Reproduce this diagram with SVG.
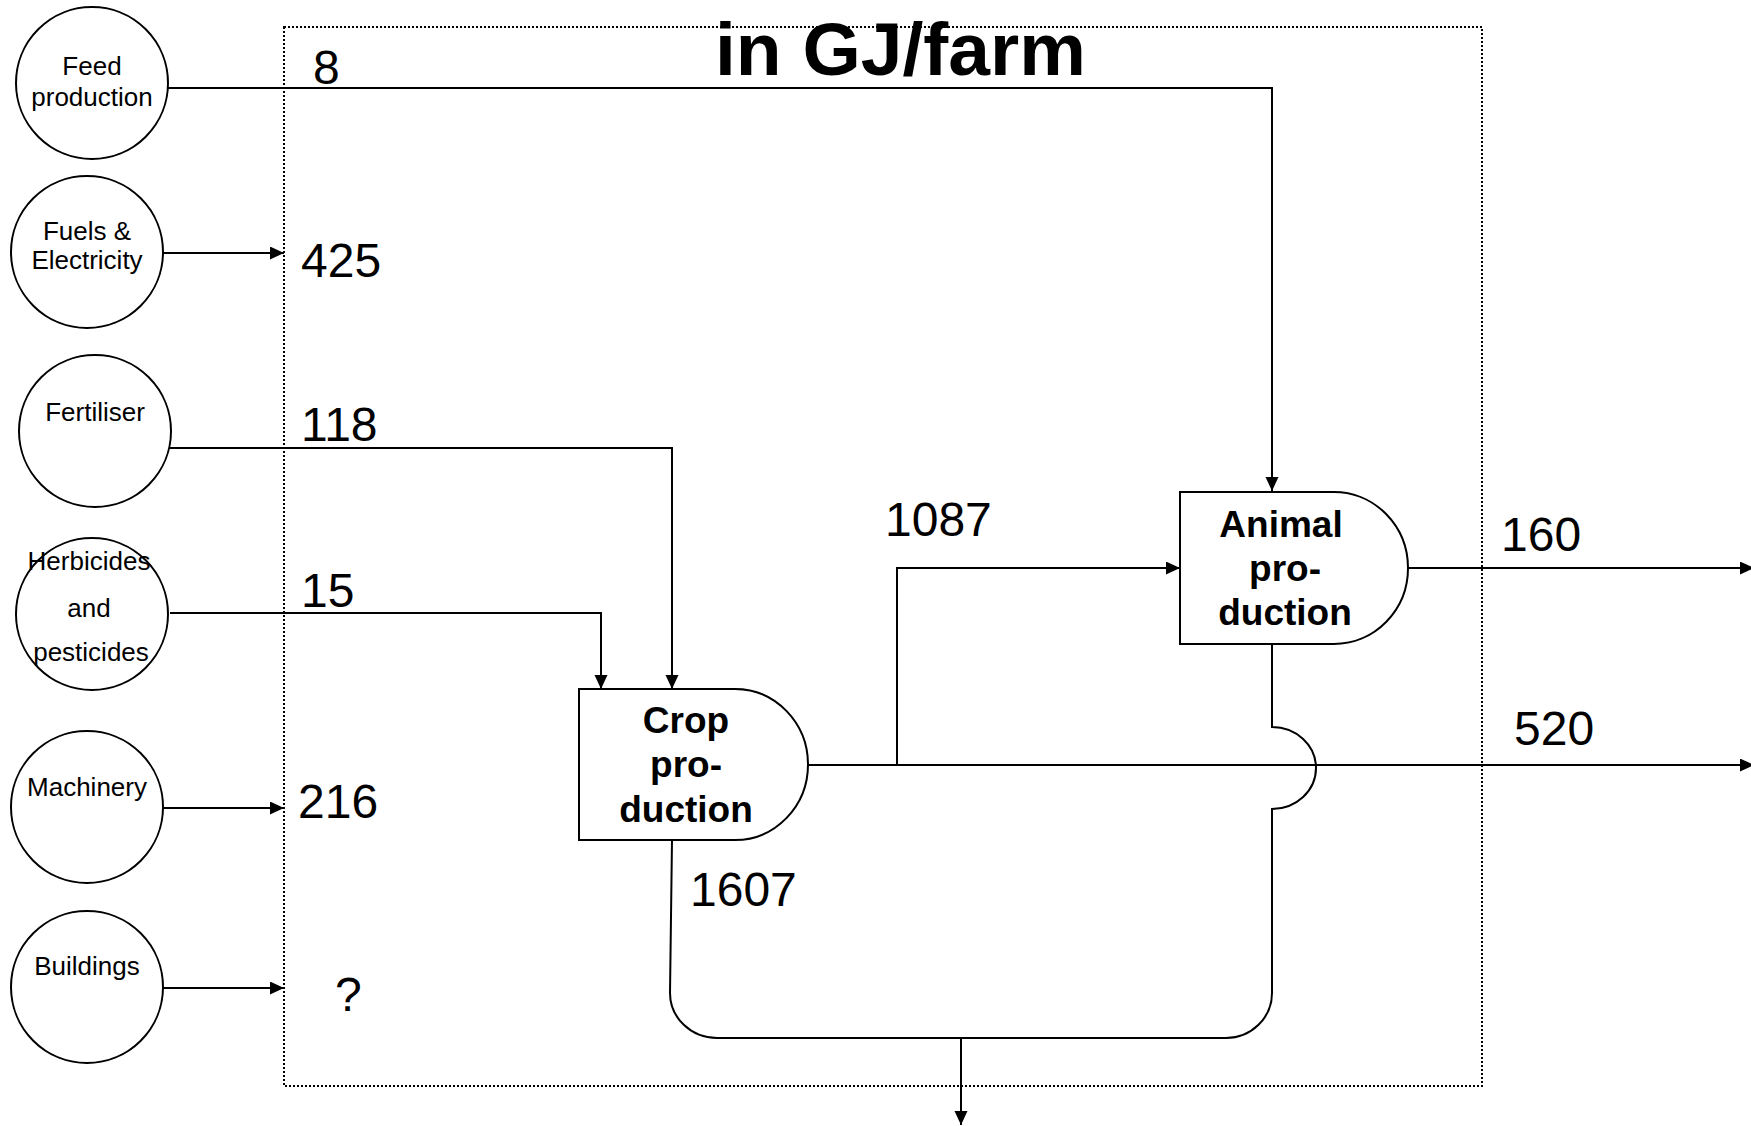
<svg xmlns="http://www.w3.org/2000/svg" width="1751" height="1126" viewBox="0 0 1751 1126">
<style>
.ln{fill:none;stroke:#000;stroke-width:2}
.nd{fill:#fff;stroke:#000;stroke-width:2}
.ct{font-family:"Liberation Sans",Arial,sans-serif;font-size:26px;text-anchor:middle;fill:#000}
.num{font-family:"Liberation Sans",Arial,sans-serif;font-size:48px;fill:#000}
.bt{font-family:"Liberation Sans",Arial,sans-serif;font-size:37px;font-weight:bold;text-anchor:middle;fill:#000}
</style>
<defs>
<marker id="ah" markerUnits="userSpaceOnUse" markerWidth="15" markerHeight="14" refX="14" refY="6.5" orient="auto">
<path d="M0,0 L14,6.5 L0,13 z" fill="#000"/>
</marker>
</defs>
<rect x="0" y="0" width="1751" height="1126" fill="#fff"/>
<rect id="boundary" x="284" y="27" width="1198" height="1059" fill="none" stroke="#000" stroke-width="2" stroke-dasharray="2 2"/>
<text x="715" y="75" font-family="'Liberation Sans',Arial,sans-serif" font-size="75" font-weight="bold">in GJ/farm</text>

<g id="connectors">
<path class="ln" d="M168,88 H1272 V491" marker-end="url(#ah)"/>
<path class="ln" d="M163,253 H284" marker-end="url(#ah)"/>
<path class="ln" d="M168,448 H672 V689" marker-end="url(#ah)"/>
<path class="ln" d="M170,613 H601 V689" marker-end="url(#ah)"/>
<path class="ln" d="M163,808 H284" marker-end="url(#ah)"/>
<path class="ln" d="M163,988 H284" marker-end="url(#ah)"/>
<path class="ln" d="M808,765 H1754" marker-end="url(#ah)"/>
<path class="ln" d="M897,765 V568 H1180" marker-end="url(#ah)"/>
<path class="ln" d="M1408,568 H1754" marker-end="url(#ah)"/>
<path class="ln" d="M1272,644 V727 A44,41 0 0 1 1272,809 V993 A46,45 0 0 1 1226,1038 H717 A47,45 0 0 1 670,993 L672,840"/>
<path class="ln" d="M961,1038 V1125" marker-end="url(#ah)"/>
</g>

<g id="feed"><circle class="nd" cx="92" cy="83" r="76"/><text class="ct" x="92" y="75">Feed</text><text class="ct" x="92" y="106">production</text></g>
<g id="fuels"><circle class="nd" cx="87" cy="252" r="76"/><text class="ct" x="87" y="240">Fuels &amp;</text><text class="ct" x="87" y="269">Electricity</text></g>
<g id="fertiliser"><circle class="nd" cx="95" cy="431" r="76"/><text class="ct" x="95" y="421">Fertiliser</text></g>
<g id="herbicides"><circle class="nd" cx="92" cy="614" r="76"/><text class="ct" x="89" y="570">Herbicides</text><text class="ct" x="89" y="617">and</text><text class="ct" x="91" y="661">pesticides</text></g>
<g id="machinery"><circle class="nd" cx="87" cy="807" r="76"/><text class="ct" x="87" y="796">Machinery</text></g>
<g id="buildings"><circle class="nd" cx="87" cy="987" r="76"/><text class="ct" x="87" y="975">Buildings</text></g>

<g id="crop">
<path class="nd" d="M579,689 H735 A73,75.5 0 0 1 735,840 H579 Z"/>
<text class="bt" x="686" y="733">Crop</text><text class="bt" x="686" y="777">pro-</text><text class="bt" x="686" y="822">duction</text>
</g>
<g id="animal">
<path class="nd" d="M1180,492 H1334 A74,76 0 0 1 1334,644 H1180 Z"/>
<text class="bt" x="1281" y="537">Animal</text><text class="bt" x="1285" y="581">pro-</text><text class="bt" x="1285" y="625">duction</text>
</g>

<g id="labels">
<text class="num" x="313" y="84">8</text>
<text class="num" x="301" y="277">425</text>
<text class="num" x="301" y="441">118</text>
<text class="num" x="301" y="607">15</text>
<text class="num" x="298" y="818">216</text>
<text class="num" x="335" y="1011" font-size="44">?</text>
<text class="num" x="885" y="536">1087</text>
<text class="num" x="1501" y="551">160</text>
<text class="num" x="1514" y="745">520</text>
<text class="num" x="690" y="906">1607</text>
</g>
</svg>
